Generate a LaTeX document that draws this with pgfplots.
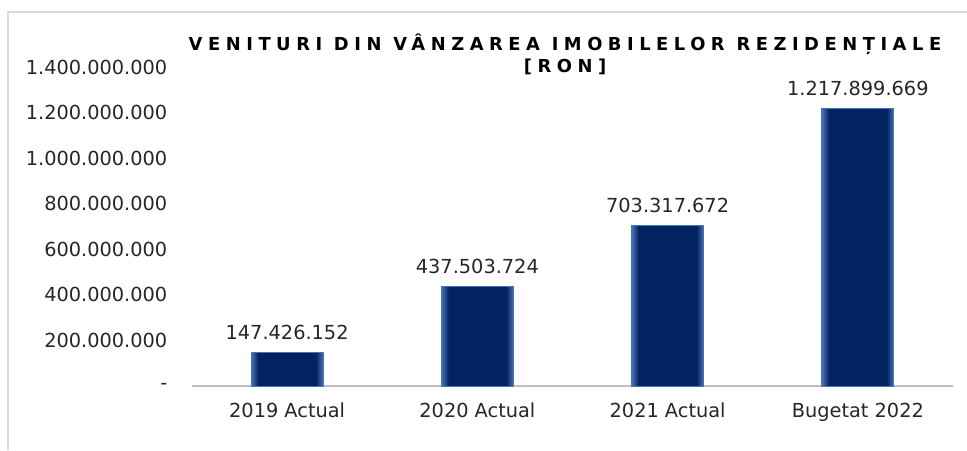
\documentclass[border=0pt]{standalone}
\usepackage{fontspec}
\setmainfont{DejaVu Sans}
\newfontfamily\titlefont[LetterSpace=31]{DejaVu Sans}
\usepackage{pgfplots}
\pgfplotsset{compat=1.18}
\definecolor{barmid}{RGB}{3,34,98}
\definecolor{baredge}{RGB}{72,116,182}
\definecolor{basegray}{RGB}{191,191,191}
\definecolor{framegray}{RGB}{217,217,217}
\definecolor{txt}{RGB}{38,38,38}
\pgfdeclarehorizontalshading{barglow}{100bp}{color(0bp)=(baredge); color(25bp)=(baredge); color(30bp)=(barmid); color(70bp)=(barmid); color(75bp)=(baredge); color(100bp)=(baredge)}

\begin{document}
\begin{tikzpicture}
  % picture size: 967x450 px at 0.75pt per px
  \path[use as bounding box] (0,0) rectangle (725.25pt,337.5pt);
  \draw[framegray, line width=1.5pt] (6pt,0) -- (6pt,328.5pt) -- (725.25pt,328.5pt);

  \node[align=center, font=\titlefont\fontsize{13.4pt}{16pt}\selectfont\bfseries, text=black]
    at (423.75pt,296.8pt) {VENITURI DIN VÂNZAREA IMOBILELOR REZIDENȚIALE\\{}[RON]};

  \begin{axis}[
    at={(144pt,48pt)}, anchor=south west,
    scale only axis,
    width=570.75pt, height=239.25pt,
    xmin=-0.5, xmax=3.5,
    ymin=0, ymax=1400000000,
    scaled y ticks=false,
    axis y line*=left,
    axis x line*=bottom,
    y axis line style={draw=none},
    x axis line style={draw=basegray, line width=2.2pt},
    major tick length=0pt,
    xtick={0,1,2,3},
    xticklabels={2019 Actual, 2020 Actual, 2021 Actual, Bugetat 2022},
    ytick={0,200000000,400000000,600000000,800000000,1000000000,1200000000,1400000000},
    yticklabels={-,200.000.000,400.000.000,600.000.000,800.000.000,1.000.000.000,1.200.000.000,1.400.000.000},
    ticklabel style={font=\fontsize{14.5pt}{16pt}\selectfont, text=txt},
    xticklabel style={yshift=-9pt},
    yticklabel style={xshift=-15pt},
    clip=false,
    bars/.style={ybar, bar width=54pt, bar shift=0pt, shading=barglow, draw=baredge, line width=0.6pt,
      point meta=explicit symbolic, nodes near coords,
      every node near coord/.append style={font=\fontsize{14.5pt}{16pt}\selectfont, text=txt, yshift=6pt}},
  ]
    % one plot per bar so that each bar gets its own shading
    \addplot[bars] coordinates {(0,147426152) [147.426.152]};
    \addplot[bars] coordinates {(1,437503724) [437.503.724]};
    \addplot[bars] coordinates {(2,703317672) [703.317.672]};
    \addplot[bars] coordinates {(3,1217899669) [1.217.899.669]};
  \end{axis}
\end{tikzpicture}
\end{document}
